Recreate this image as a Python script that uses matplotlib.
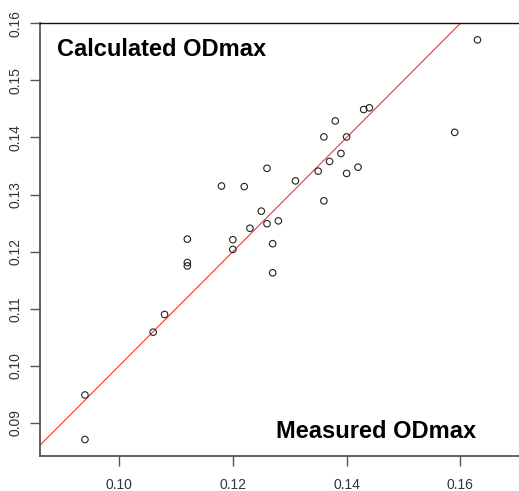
import matplotlib
matplotlib.use("Agg")
import matplotlib.pyplot as plt

plt.rcParams['font.family'] = ['Liberation Sans', 'DejaVu Sans']

measured = [0.094, 0.094, 0.106, 0.108, 0.112, 0.112, 0.112, 0.120, 0.120,
            0.118, 0.122, 0.123, 0.125, 0.126, 0.126, 0.128, 0.127, 0.127,
            0.131, 0.135, 0.136, 0.136, 0.137, 0.138, 0.139, 0.140, 0.140,
            0.142, 0.143, 0.144, 0.159, 0.163]
calculated = [0.0949, 0.0871, 0.1059, 0.1090, 0.1181, 0.1175, 0.1222, 0.1204, 0.1221,
              0.1315, 0.1314, 0.1241, 0.1271, 0.1346, 0.1249, 0.1254, 0.1214, 0.1163,
              0.1324, 0.1341, 0.1401, 0.1289, 0.1358, 0.1429, 0.1372, 0.1401, 0.1337,
              0.1348, 0.1449, 0.1452, 0.1409, 0.1571]
x_ticks = [0.10, 0.12, 0.14, 0.16]
y_ticks = [0.09, 0.10, 0.11, 0.12, 0.13, 0.14, 0.15, 0.16]

W, H = 519, 491
fig = plt.figure(figsize=(W / 100, H / 100), dpi=100)
ax = fig.add_axes([40 / W, (H - 455.5) / H, 1 - 40 / W, (455.5 - 23.3) / H])

ax.set_xlim(0.0861, 0.1703)
ax.set_ylim(0.0843, 0.16)

ax.plot([0.08, 0.18], [0.08, 0.18], color='#ff3030', lw=0.8, zorder=1)
ax.scatter(measured, calculated, s=22, facecolors='none', edgecolors='#222222',
           linewidths=0.8, zorder=2)

ax.set_xticks(x_ticks)
ax.set_xticklabels([f"{v:.2f}" for v in x_ticks])
ax.set_yticks(y_ticks)
ax.set_yticklabels([f"{v:.2f}" for v in y_ticks], rotation=90, va='center')

ax.tick_params(axis='x', length=7.5, width=1, colors='#555555', labelsize=10,
               labelcolor='#333333', pad=9)
ax.tick_params(axis='y', length=7.5, width=1, colors='#555555', labelsize=10,
               labelcolor='#333333', pad=5)

ax.spines['right'].set_visible(False)
ax.spines['top'].set_color('#111111')
ax.spines['top'].set_linewidth(1.0)
for s in ['left', 'bottom']:
    ax.spines[s].set_color('#555555')
    ax.spines[s].set_linewidth(1.3)

fig.text(57 / W, 1 - 56 / H, "Calculated ODmax", fontsize=17, fontweight='bold',
         va='baseline', ha='left', color='black')
fig.text(276 / W, 1 - 438 / H, "Measured ODmax", fontsize=17, fontweight='bold',
         va='baseline', ha='left', color='black')

fig.savefig("out.png", dpi=100)
